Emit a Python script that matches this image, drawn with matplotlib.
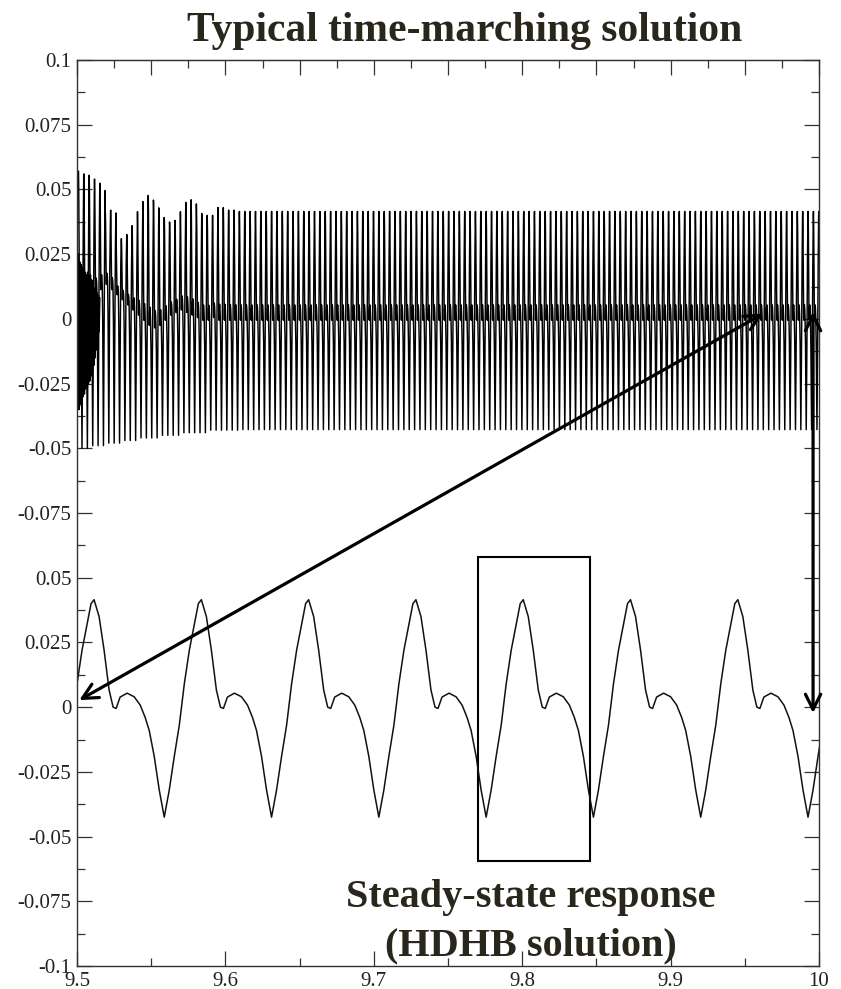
import numpy as np
import matplotlib
matplotlib.use("Agg")
import matplotlib.pyplot as plt
from matplotlib.ticker import MultipleLocator, FixedLocator, NullFormatter

# ---------------- data ----------------
# one period of the steady-state (HDHB) response: phase offset from peak (px of 107) and value
wave_phase = [0, 5, 10, 15, 19, 22, 26, 33, 40, 46, 51, 55, 60, 65, 70, 75, 80, 85, 90, 95, 100, 104, 107]
wave_value = [0.0415, 0.035, 0.022, 0.0066, 0.0, -0.0005, 0.0039, 0.0054, 0.004, 0.0008, -0.004,
              -0.009, -0.019, -0.032, -0.0425, -0.032, -0.019, -0.007, 0.009, 0.022, 0.032, 0.040, 0.0415]
period = 0.0723          # s
hdhb_first_peak = 9.5115  # s
hdhb_cycles = list(range(-1, 8))

# time-marching solution (0..10 s drawn over the 9.5..10 axis): per-cycle envelopes
tm_first_peak = 0.02
tm_max_early = [0.057, 0.056, 0.0555, 0.054, 0.051, 0.042, 0.042, 0.031, 0.031, 0.0326,
                0.036, 0.0414, 0.0453, 0.0477, 0.0446, 0.0407, 0.0388, 0.0364, 0.038, 0.0414,
                0.045, 0.046, 0.042, 0.0407, 0.040, 0.040, 0.043, 0.043, 0.042, 0.042]
tm_min_early = [-0.050, -0.050, -0.049, -0.049, -0.049, -0.048, -0.048, -0.048, -0.047, -0.047,
                -0.047, -0.046, -0.046, -0.046, -0.046, -0.045, -0.045, -0.045, -0.045, -0.044,
                -0.044, -0.044, -0.044, -0.044, -0.043, -0.043, -0.043, -0.043, -0.043, -0.043]
tm_off_early = [0.008, 0.008, 0.008, 0.010, 0.012, 0.014, 0.012, 0.010, 0.008, 0.006,
                0.004, 0.002, 0.000, -0.002, -0.003, -0.002, 0.000, 0.002, 0.003, 0.004,
                0.003, 0.002, 0.001, 0.000, 0.000, 0.001, 0.000, 0.000, 0.000, 0.000]
tm_steady_cycles = 109
tm_max_steady = 0.0415
tm_min_steady = -0.0428
tm_off_steady = 0.0

# initial dense transient burst (first ~0.32 s)
burst_value = [0.024, -0.034, 0.025, -0.035, 0.022, -0.033, 0.021, -0.034, 0.020, -0.030,
               0.019, -0.029, 0.018, -0.027, 0.017, -0.026, 0.018, -0.025, 0.016, -0.024,
               0.017, -0.022, 0.015, -0.020, 0.014, -0.018, 0.012, -0.015, 0.011, -0.012,
               0.010, -0.008, 0.009, -0.005, 0.008]
burst_dt = 0.009

ytick_labels = ['-0.1', '-0.075', '-0.05', '-0.025', '0', '0.025', '0.05',
                '-0.075', '-0.05', '-0.025', '0', '0.025', '0.05', '0.075', '0.1']
xtick_values = [9.5, 9.6, 9.7, 9.8, 9.9, 10.0]
xtick_labels = ['9.5', '9.6', '9.7', '9.8', '9.9', '10']

lower_shift = -0.15   # lower panel drawn below upper panel on the same axis

# ---------------- build series ----------------
ph = np.array(wave_phase[:-1]) / 107.0
wv = np.array(wave_value[:-1])

hx, hy = [], []
for k in hdhb_cycles:
    hx.append(hdhb_first_peak + (k + ph) * period)
    hy.append(wv)
hx = np.concatenate(hx)
hy = np.concatenate(hy) + lower_shift

tmax = tm_max_early + [tm_max_steady] * tm_steady_cycles
tmin = tm_min_early + [tm_min_steady] * tm_steady_cycles
toff = tm_off_early + [tm_off_steady] * tm_steady_cycles
tx, ty = [], []
for k in range(len(tmax)):
    P, N, o = tmax[k], tmin[k], toff[k]
    seg = np.where(wv > 0, o + wv / 0.0415 * (P - o), o + wv / 0.0425 * (o - N))
    tx.append(tm_first_peak + (k + ph) * period)
    ty.append(seg)
tx = 9.5 + np.concatenate(tx) / 20.0
ty = np.concatenate(ty)

bx = 9.5 + np.arange(len(burst_value)) * burst_dt / 20.0
by = np.array(burst_value)

# ---------------- figure ----------------
plt.rcParams['font.family'] = ['Liberation Serif', 'DejaVu Serif']
fig = plt.figure(figsize=(8.41, 9.89), dpi=100)
ax = fig.add_axes([77 / 841, 23 / 989, 742 / 841, 906 / 989])
ax.set_xlim(9.5, 10.0)
ax.set_ylim(-0.25, 0.1)

ax.plot(tx, ty, color='black', lw=1.05)
ax.plot(bx, by, color='black', lw=1.2)
ax.plot(hx, hy, color='#111111', lw=1.1)

# ticks
ax.yaxis.set_major_locator(FixedLocator(np.linspace(-0.25, 0.1, 15)))
ax.set_yticklabels(ytick_labels)
ax.yaxis.set_minor_locator(MultipleLocator(0.0125))
ax.xaxis.set_major_locator(FixedLocator(xtick_values))
ax.set_xticklabels(xtick_labels)
ax.xaxis.set_minor_locator(MultipleLocator(0.05))
ax.tick_params(axis='both', which='major', direction='in', length=11, width=0.9,
               labelsize=15, colors='#333333', labelcolor='#222222')
ax.tick_params(axis='both', which='minor', direction='in', length=6, width=0.9, colors='#333333')
ax.tick_params(axis='y', which='both', left=True, right=True)
ax.tick_params(axis='x', which='both', top=False, bottom=True, pad=4)
ax.tick_params(axis='y', which='major', pad=4)
for s in ax.spines.values():
    s.set_color('#333333')
    s.set_linewidth(1.0)

sec = ax.secondary_xaxis('top')
sec.xaxis.set_major_locator(MultipleLocator(0.05))
sec.xaxis.set_minor_locator(MultipleLocator(0.025))
sec.xaxis.set_major_formatter(NullFormatter())
sec.tick_params(which='major', direction='in', length=11, width=0.9, colors='#333333')
sec.tick_params(which='minor', direction='in', length=6, width=0.9, colors='#333333')
sec.spines['top'].set_color('#333333')

# annotations
astyle = '<->,head_length=1.1,head_width=0.55'
ax.annotate('', xy=(9.5015, 0.0027 + lower_shift), xytext=(9.9623, 0.002),
            arrowprops=dict(arrowstyle=astyle, lw=2.3, color='black', shrinkA=0, shrinkB=0),
            zorder=5)
ax.annotate('', xy=(9.996, 0.0027), xytext=(9.996, -0.0023 + lower_shift),
            arrowprops=dict(arrowstyle=astyle, lw=2.3, color='black', shrinkA=0, shrinkB=0),
            zorder=5)
ax.add_patch(plt.Rectangle((9.7702, -0.0593 + lower_shift), 9.8457 - 9.7702, 0.0581 + 0.0593,
                           fill=False, lw=1.5, ec='black'))

ax.text(9.806, -0.0828 + lower_shift, 'Steady-state response\n(HDHB solution)',
        ha='center', va='center', fontsize=29, fontweight='bold', color='#29261b',
        linespacing=1.42)
fig.text(465 / 841, 1 - 31 / 989, 'Typical time-marching solution', ha='center', va='center',
         fontsize=30, fontweight='bold', color='#29261b')

fig.savefig('out.png', dpi=100)
